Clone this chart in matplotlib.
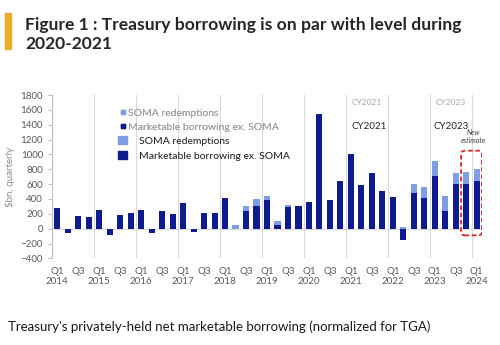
import matplotlib
matplotlib.use("Agg")
import matplotlib.pyplot as plt
from matplotlib.patches import Patch, Rectangle, FancyBboxPatch
from matplotlib.lines import Line2D

plt.rcParams['font.family'] = ['Lato', 'DejaVu Sans']

years = list(range(2014, 2025))
quarters = [f"Q{q} {y}" for y in years for q in range(1, 5)][:41]

marketable = [275, -55, 175, 155, 255, -85, 190, 210, 255, -60, 233, 202,
              346, -45, 211, 205, 413, 0, 233, 305, 390, 45, 295, 300,
              365, 1540, 390, 645, 1010, 590, 745, 503, 422, -150, 480, 420,
              705, 245, 600, 600, 640]
soma = [0, 0, 0, 0, 0, 0, 0, 0, 0, 0, 0, 0,
        0, 0, 0, 0, 0, 45, 67, 100, 45, 65, 30, 0,
        0, 0, 0, 0, 0, 0, 0, 0, 0, 20, 120, 135,
        210, 190, 150, 160, 170]

tick_labels = []
for i, q in enumerate(quarters):
    qq, yy = q.split()
    if qq == "Q1":
        tick_labels.append(f"Q1\n{yy}")
    elif qq == "Q3":
        tick_labels.append("Q3")
    else:
        tick_labels.append("")

dark = "#0D1B8E"
light = "#7E9DE3"
grey = "#595959"

fig = plt.figure(figsize=(5, 3.45), dpi=100)
ax = fig.add_axes([0.104, 0.251, 0.86, 0.4736])

x = list(range(len(quarters)))
base = [max(m, 0) for m in marketable]
ax.bar(x, marketable, width=0.58, color=dark, zorder=3)
ax.bar(x, soma, bottom=base, width=0.58, color=light, zorder=3)

ax.set_xlim(-0.5, len(quarters) - 0.5)
ax.set_ylim(-400, 1800)
ax.set_yticks(range(-400, 1801, 200))
ax.tick_params(axis='y', labelsize=7, colors=grey, length=3, color="#BFBFBF")
ax.set_xticks(x)
ax.set_xticklabels(tick_labels, fontsize=7, color=grey, linespacing=1.2)
ax.tick_params(axis='x', length=0, pad=6)
ax.set_ylabel(r"\$bn, quarterly", fontsize=7, color="#8C8C8C", labelpad=4)

for s in ['top', 'right', 'bottom']:
    ax.spines[s].set_visible(False)
ax.spines['left'].set_color("#BFBFBF")
for b in range(4, len(quarters), 4):
    ax.axvline(b - 0.5, color="#D9D9D9", lw=0.8, zorder=1)
ax.axhline(0, color="#D9D9D9", lw=0.8, zorder=2)

# new estimate box
ax.add_patch(FancyBboxPatch((38.5, -90), 2.0, 1140,
                            boxstyle="round,pad=0,rounding_size=0.35",
                            mutation_aspect=150, fill=False,
                            edgecolor="#E02424", lw=1.3, ls=(0, (2.5, 1.5)), zorder=4))
ax.text(39.7, 1240, "New\nestimate", fontsize=5, style='italic', color="#404040",
        ha='center', va='center', linespacing=1.1)

ax.text(29.5, 1700, "CY2021", fontsize=6, color="#A6A6A6", ha='center', va='center')
ax.text(29.7, 1380, "CY2021", fontsize=7, color="#262626", ha='center', va='center')
ax.text(37.5, 1700, "CY2023", fontsize=6, color="#A6A6A6", ha='center', va='center')
ax.text(37.6, 1380, "CY2023", fontsize=7, color="#262626", ha='center', va='center')

# legends (faded copy above the main one, as in the source image)
h1 = [Line2D([], [], marker='s', ls='', color=light, markersize=3),
      Line2D([], [], marker='s', ls='', color=dark, markersize=3)]
leg1 = fig.legend(h1, ["SOMA redemptions", "Marketable borrowing ex. SOMA"],
                  loc='upper left', bbox_to_anchor=(0.232, 0.70), frameon=False,
                  fontsize=7.5, labelcolor="#A0A0A0", handlelength=0.4,
                  handletextpad=0.3, labelspacing=0.45, borderpad=0)
h2 = [Patch(color=light), Patch(color=dark)]
leg2 = fig.legend(h2, ["SOMA redemptions", "Marketable borrowing ex. SOMA"],
                  loc='upper left', bbox_to_anchor=(0.225, 0.622), frameon=False,
                  fontsize=7.5, labelcolor="#1A1A1A", handlelength=0.9,
                  handleheight=0.9, handletextpad=1.1, labelspacing=0.5, borderpad=0)
fig.add_artist(leg1)

# title and caption
fig.patches.append(Rectangle((0.010, 0.858), 0.011, 0.105, transform=fig.transFigure,
                             color="#E8AE2A"))
fig.text(0.05, 0.95, "Figure 1 : Treasury borrowing is on par with level during\n2020-2021",
         fontsize=12.6, fontweight='bold', color="#262626", va='top', linespacing=1.2)
fig.text(0.016, 0.053, "Treasury's privately-held net marketable borrowing (normalized for TGA)",
         fontsize=9.5, color="#1A1A1A", va='center')

fig.savefig("out.png", dpi=100)
